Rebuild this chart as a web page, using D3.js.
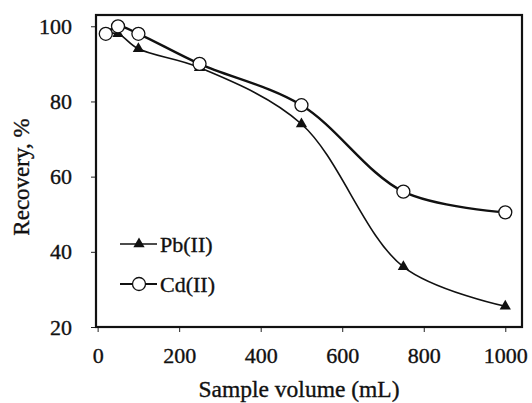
<!DOCTYPE html>
<html>
<head>
<meta charset="utf-8">
<style>
  body { margin: 0; background: #fff; }
  text { font-family: "Liberation Serif", "Times New Roman", serif; stroke: #111; stroke-width: 0.35px; }
</style>
</head>
<body>
<svg width="532" height="403" font-family="Liberation Serif"></svg>
<script src="https://d3js.org/d3.v7.min.js"></script>
<script>

// data
var volumes = [20, 50, 100, 250, 500, 750, 1000];
var pbValues = [98, 98, 94, 89, 74, 36, 25.5];
var cdValues = [98, 100, 98, 90, 79, 56, 50.5];
var xTicks = [0, 200, 400, 600, 800, 1000];
var yTicks = [20, 40, 60, 80, 100];

var svg = d3.select("svg"),
    margin = {top: 15, right: 10, bottom: 76, left: 96},
    width = +svg.attr("width") - margin.left - margin.right,
    height = +svg.attr("height") - margin.top - margin.bottom,
    g = svg.append("g").attr("transform", "translate(" + margin.left + "," + margin.top + ")");

var x = d3.scaleLinear().domain([-4, 1041]).range([0, width]);
var y = d3.scaleLinear().domain([20, 103]).range([height, 0]);

var pb = volumes.map(function(v, i) { return {x: v, y: pbValues[i]}; });
var cd = volumes.map(function(v, i) { return {x: v, y: cdValues[i]}; });

var line = d3.line()
    .x(function(d) { return x(d.x); })
    .y(function(d) { return y(d.y); })
    .curve(d3.curveCatmullRom.alpha(0.5));

// axes
var xAxis = g.append("g")
    .attr("transform", "translate(0," + height + ")")
    .call(d3.axisBottom(x).tickValues(xTicks).tickFormat(d3.format("d")).tickSize(5).tickPadding(15));
var yAxis = g.append("g")
    .call(d3.axisLeft(y).tickValues(yTicks).tickSize(5).tickPadding(19));

[xAxis, yAxis].forEach(function(a) {
  a.attr("font-family", null).attr("font-size", 22);
  a.select(".domain").remove();
  a.selectAll("line").attr("stroke", "#222");
  a.selectAll("text").attr("fill", "#111");
});

// frame
g.append("rect")
    .attr("width", width)
    .attr("height", height)
    .attr("fill", "none")
    .attr("stroke", "#111")
    .attr("stroke-width", 2.2);

// lines
g.append("path")
    .datum(pb)
    .attr("fill", "none")
    .attr("stroke", "#111")
    .attr("stroke-width", 1.6)
    .attr("d", line);

g.append("path")
    .datum(cd)
    .attr("fill", "none")
    .attr("stroke", "#111")
    .attr("stroke-width", 2.4)
    .attr("d", line);

var tri = d3.symbol().type(d3.symbolTriangle).size(55);

g.selectAll(".pb")
    .data(pb)
    .enter().append("path")
    .attr("class", "pb")
    .attr("transform", function(d) { return "translate(" + x(d.x) + "," + y(d.y) + ")"; })
    .attr("d", tri)
    .attr("fill", "#111");

g.selectAll(".cd")
    .data(cd)
    .enter().append("circle")
    .attr("class", "cd")
    .attr("cx", function(d) { return x(d.x); })
    .attr("cy", function(d) { return y(d.y); })
    .attr("r", 6.5)
    .attr("fill", "#fff")
    .attr("stroke", "#111")
    .attr("stroke-width", 1.3);

// legend
var legend = g.append("g").attr("transform", "translate(24,229)");
legend.append("line").attr("x1", 0).attr("x2", 37).attr("stroke", "#111").attr("stroke-width", 1.4);
legend.append("path").attr("transform", "translate(19,0)").attr("d", tri).attr("fill", "#111");
legend.append("text").attr("x", 40).attr("dy", "0.35em").attr("font-size", 22).attr("fill", "#111").text("Pb(II)");

legend.append("line").attr("x1", 0).attr("x2", 37).attr("y1", 40).attr("y2", 40).attr("stroke", "#111").attr("stroke-width", 2);
legend.append("circle").attr("cx", 19).attr("cy", 40).attr("r", 6.5)
    .attr("fill", "#fff").attr("stroke", "#111").attr("stroke-width", 1.3);
legend.append("text").attr("x", 40).attr("y", 40).attr("dy", "0.35em").attr("font-size", 22).attr("fill", "#111").text("Cd(II)");

// axis titles
svg.append("text")
    .attr("x", 299)
    .attr("y", 397)
    .attr("text-anchor", "middle")
    .attr("font-size", 23.5)
    .attr("fill", "#111")
    .text("Sample volume (mL)");

svg.append("text")
    .attr("transform", "translate(29,177) rotate(-90)")
    .attr("text-anchor", "middle")
    .attr("font-size", 23)
    .attr("fill", "#111")
    .text("Recovery, %");

</script>
</body>
</html>
